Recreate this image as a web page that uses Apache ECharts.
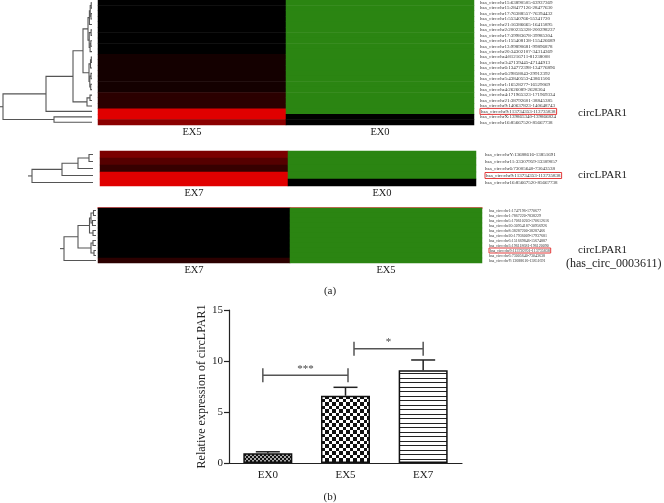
<!DOCTYPE html>
<html>
<head>
<meta charset="utf-8">
<script src="https://cdn.jsdelivr.net/npm/echarts@6/dist/echarts.min.js"></script>
<style>html,body{margin:0;padding:0;background:#fff}#c{width:664px;height:503px}</style>
</head>
<body>
<div id="c"></div>
<script>
// ---------------- DATA ----------------
const h1Cols = ['EX5', 'EX0'];
const h1Rows = [
  'hsa_circ:chr15:63890505-63937369','hsa_circ:chr15:28477126-28477630','hsa_circ:chr17:76388557-76394432',
  'hsa_circ:chr1:55340766-55341720','hsa_circ:chr21:16386665-16415895','hsa_circ:chr2:200235328-200298237',
  'hsa_circ:chr17:39983678-39985304','hsa_circ:chr1:155408138-155426689','hsa_circ:chr13:99890681-99896878',
  'hsa_circ:chr20:34302107-34314369','hsa_circ:chr4:81216711-81238008','hsa_circ:chr3:47139445-47144913',
  'hsa_circ:chr6:134772398-134776896','hsa_circ:chr6:29858043-29912392','hsa_circ:chr5:43840553-43861506',
  'hsa_circ:chr1:16528277-16529069','hsa_circ:chr4:2626089-2628304','hsa_circ:chr4:171965323-171969334',
  'hsa_circ:chr21:38792601-38845385','hsa_circ:chr9:140637823-140648743','hsa_circ:chr9:113734353-113735838',
  'hsa_circ:chrX:139865340-139866824','hsa_circ:chr16:85667520-85667738'
];
const h1EX5 = [0,0,0,0,0,0,0,0,0,0, 0.09,0.09,0.09,0.09,0.09,0.09,0.09, 0.19,0.19,0.19, 1,1, 0.62];
const h1EX0 = [-1,-1,-1,-1,-1,-1,-1,-1,-1,-1,-1,-1,-1,-1,-1,-1,-1,-1,-1,-1,-1, 0,0];
const h1Boxed = ['hsa_circ:chr9:113734353-113735838'];
// dendrogram merges: [childA, childB, height]
const h1Tree = [
  [0,1,0.8],[2,3,1.0],[23,24,1.8],[25,4,2.6],[5,6,0.9],[7,8,1.2],[28,9,1.9],[27,29,2.8],[26,30,4.0],
  [10,11,0.7],[32,12,1.5],[13,14,1.0],[15,16,1.3],[34,35,2.2],[33,36,3.0],[31,37,9],
  [17,18,2],[39,19,5],[38,40,19],[41,20,46],[21,22,38],[42,43,89]
];

const h2Cols = ['EX7', 'EX0'];
const h2Rows = [
  'hsa_circ:chrY:13688616-13851691','hsa_circ:chr11:33307959-33309057','hsa_circ:chr6:73005640-73043538',
  'hsa_circ:chr9:113734353-113735838','hsa_circ:chr16:85667520-85667738'
];
const h2EX7 = [0.55, 0.38, 0.24, 1, 1];
const h2EX0 = [-1, -1, -1, -1, 0];
const h2Boxed = ['hsa_circ:chr9:113734353-113735838'];
const h2Tree = [[0,1,4],[5,2,15],[6,3,31],[7,4,61]];

const h3Cols = ['EX7', 'EX5'];
const h3Rows = [
  'hsa_circ:chr1:1747196-1770677','hsa_circ:chr1:7867220-7838229','hsa_circ:chr5:170610203-170612616',
  'hsa_circ:chr20:30954187-30956926','hsa_circ:chr8:38287200-38287466','hsa_circ:chr20:17936009-17937681',
  'hsa_circ:chr6:151669846-15674887','hsa_circ:chr3:196118681-196120090','hsa_circ:chr9:113720701-113735838',
  'hsa_circ:chr6:73005640-73043638','hsa_circ:chrY:13688616-13851691'
];
const h3EX7 = [0,0,0,0,0,0,0,0,0,0,0.19];
const h3EX5 = [-1,-1,-1,-1,-1,-1,-1,-1,-1,-1,-1];
const h3Boxed = ['hsa_circ:chr9:113720701-113735838'];
const h3Tree = [[0,1,2.5],[2,3,3.5],[11,12,5],[4,5,3],[13,14,6.5],[6,7,3],[8,9,2],[16,17,5],[15,18,18],[19,10,32]];

const barCats = ['EX0', 'EX5', 'EX7'];
const barMeans = [0.95, 6.6, 9.1];
const barErrs = [0.15, 0.82, 1.0];
const yTicks = [0, 5, 15];
const sigPairs = [[0, 1, 8.6], [1, 2, 11.2]];
const sigLabels = ['***', '*'];

// ---------------- STYLE / HELPERS ----------------
const SERIF = '"Liberation Serif", "DejaVu Serif", serif';

function heatData(a, b) {
  const d = [];
  a.forEach((v, i) => d.push([0, i, v]));
  b.forEach((v, i) => d.push([1, i, v]));
  return d;
}
function treeData(merges, n) {
  const pos = [];
  for (let i = 0; i < n; i++) pos[i] = { h: 0, y: i };
  merges.forEach(([a, b, h], k) => { pos[n + k] = { h: h, y: (pos[a].y + pos[b].y) / 2 }; });
  return merges.map(([a, b, h], k) => [h, pos[a].y, pos[a].h, pos[b].y, pos[b].h, k === merges.length - 1 ? 1 : 0]);
}
function treeRender(params, api) {
  const h = api.value(0), ya = api.value(1), ha = api.value(2), yb = api.value(3), hb = api.value(4), root = api.value(5);
  const pts = [api.coord([ha, ya]), api.coord([h, ya]), api.coord([h, yb]), api.coord([hb, yb])];
  const ch = [{ type: 'polyline', shape: { points: pts }, style: { stroke: '#555', lineWidth: 1.1, fill: null } }];
  if (root) {
    const m = api.coord([h, (ya + yb) / 2]);
    ch.push({ type: 'line', shape: { x1: m[0] - 4, y1: m[1], x2: m[0], y2: m[1] }, style: { stroke: '#555', lineWidth: 1.1 } });
  }
  return { type: 'group', children: ch };
}
function heatX(grid, cols) {
  return { type: 'category', gridIndex: grid, data: cols, position: 'bottom',
    axisLine: { show: false }, axisTick: { show: false }, splitLine: { show: false },
    axisLabel: { fontSize: 10.5, fontFamily: SERIF, color: '#222', margin: 2 } };
}
function heatY(grid, rows, fs, margin, boxed) {
  return { type: 'category', gridIndex: grid, data: rows, inverse: true, position: 'right',
    axisLine: { show: false }, axisTick: { show: false }, splitLine: { show: false },
    axisLabel: { interval: 0, fontSize: fs, fontFamily: SERIF, color: '#333', margin: margin,
      formatter: v => boxed.includes(v) ? '{b|' + v + '}' : v,
      rich: { b: { borderColor: '#e23b3b', borderWidth: 1, padding: [1, 1, 0, 1], fontSize: fs, fontFamily: SERIF, color: '#333' } } } };
}
function valX(grid, max) { return { type: 'value', gridIndex: grid, min: 0, max: max, inverse: true, show: false }; }
function valY(grid, n) { return { type: 'value', gridIndex: grid, min: -0.5, max: n - 0.5, inverse: true, show: false }; }

function makePattern(kind) {
  const c = document.createElement('canvas');
  const g = c.getContext('2d');
  if (kind === 0) {
    c.width = 4; c.height = 4;
    g.fillStyle = '#111'; g.fillRect(0, 0, 4, 4);
    g.fillStyle = '#a8a8a8'; g.fillRect(0, 0, 2, 2); g.fillRect(2, 2, 2, 2);
  } else if (kind === 1) {
    c.width = 7; c.height = 7;
    g.fillStyle = '#fff'; g.fillRect(0, 0, 7, 7);
    g.fillStyle = '#111'; g.fillRect(0, 0, 3, 3); g.fillRect(3, 3, 4, 4);
  } else {
    c.width = 4; c.height = 9;
    g.fillStyle = '#fff'; g.fillRect(0, 0, 4, 9);
    g.fillStyle = '#222'; g.fillRect(0, 0, 4, 1); g.fillRect(0, 4, 4, 1);
  }
  return c;
}
const patterns = [makePattern(0), makePattern(1), makePattern(2)];
const bracketInset = [[-5, 2.5], [8.5, 0]];

const chart = echarts.init(document.getElementById('c'), null, { renderer: 'canvas' });
const option = {
  backgroundColor: '#fff',
  animation: false,
  grid: [
    { left: 98, top: 0, width: 376, height: 125 },
    { left: 0, top: 0, width: 92, height: 125 },
    { left: 100, top: 151, width: 376, height: 35 },
    { left: 0, top: 151, width: 93, height: 35 },
    { left: 98, top: 208, width: 384, height: 55 },
    { left: 0, top: 208, width: 96, height: 55 },
    { left: 229, top: 310, width: 233, height: 153 }
  ],
  xAxis: [
    heatX(0, h1Cols), valX(1, 92), heatX(2, h2Cols), valX(3, 93), heatX(4, h3Cols), valX(5, 96),
    { type: 'category', gridIndex: 6, data: barCats,
      axisLine: { lineStyle: { color: '#222', width: 1.2 } }, axisTick: { show: false },
      axisLabel: { fontSize: 11, fontFamily: SERIF, color: '#222', margin: 7 } },
    { type: 'category', gridIndex: 4, data: h3Cols, position: 'top',
      axisLine: { show: true, onZero: false, lineStyle: { color: '#e03030', width: 1.5 } },
      axisTick: { show: false }, axisLabel: { show: false } }
  ],
  yAxis: [
    heatY(0, h1Rows, 5, 6, h1Boxed), valY(1, h1Rows.length),
    heatY(2, h2Rows, 5, 9, h2Boxed), valY(3, h2Rows.length),
    heatY(4, h3Rows, 4, 7, h3Boxed), valY(5, h3Rows.length),
    { type: 'value', gridIndex: 6, min: yTicks[0], max: yTicks[2], interval: yTicks[1],
      name: 'Relative expression of circLPAR1', nameLocation: 'middle', nameGap: 20,
      nameTextStyle: { fontSize: 12, fontFamily: SERIF, color: '#222' },
      axisLine: { show: true, lineStyle: { color: '#222', width: 1.2 } },
      axisTick: { show: true, length: 5, lineStyle: { color: '#222', width: 1.2 } },
      axisLabel: { fontSize: 11, fontFamily: SERIF, color: '#222', margin: 6 },
      splitLine: { show: false } }
  ],
  visualMap: {
    type: 'continuous', min: -1, max: 1, show: false, seriesIndex: [0, 1, 2],
    inRange: { color: ['#2b8512', '#000000', '#e00000'] }
  },
  series: [
    { type: 'heatmap', xAxisIndex: 0, yAxisIndex: 0, data: heatData(h1EX5, h1EX0), emphasis: { disabled: true } },
    { type: 'heatmap', xAxisIndex: 2, yAxisIndex: 2, data: heatData(h2EX7, h2EX0), emphasis: { disabled: true } },
    { type: 'heatmap', xAxisIndex: 4, yAxisIndex: 4, data: heatData(h3EX7, h3EX5), emphasis: { disabled: true } },
    { type: 'custom', xAxisIndex: 1, yAxisIndex: 1, data: treeData(h1Tree, h1Rows.length), renderItem: treeRender, silent: true },
    { type: 'custom', xAxisIndex: 3, yAxisIndex: 3, data: treeData(h2Tree, h2Rows.length), renderItem: treeRender, silent: true },
    { type: 'custom', xAxisIndex: 5, yAxisIndex: 5, data: treeData(h3Tree, h3Rows.length), renderItem: treeRender, silent: true },
    { type: 'bar', xAxisIndex: 6, yAxisIndex: 6, barWidth: 49,
      data: barMeans.map((v, i) => ({ value: v, itemStyle: { color: { image: patterns[i], repeat: 'repeat' }, borderColor: '#111', borderWidth: 1.5 } })) },
    { type: 'custom', xAxisIndex: 6, yAxisIndex: 6, silent: true,
      data: barMeans.map((v, i) => [i, v, barErrs[i]]),
      renderItem: (params, api) => {
        const p0 = api.coord([api.value(0), api.value(1)]);
        const p1 = api.coord([api.value(0), api.value(1) + api.value(2)]);
        const st = { stroke: '#222', lineWidth: 1.5 };
        return { type: 'group', children: [
          { type: 'line', shape: { x1: p0[0], y1: p0[1], x2: p1[0], y2: p1[1] }, style: st },
          { type: 'line', shape: { x1: p1[0] - 12, y1: p1[1], x2: p1[0] + 12, y2: p1[1] }, style: st }
        ] };
      } },
    { type: 'custom', xAxisIndex: 6, yAxisIndex: 6, silent: true,
      data: sigPairs,
      renderItem: (params, api) => {
        const pa = api.coord([api.value(0), api.value(2)]);
        const pb = api.coord([api.value(1), api.value(2)]);
        const ins = bracketInset[params.dataIndex];
        const x1 = pa[0] + ins[0], x2 = pb[0] + ins[1], y = pa[1];
        const st = { stroke: '#555', lineWidth: 1.5 };
        return { type: 'group', children: [
          { type: 'line', shape: { x1: x1, y1: y, x2: x2, y2: y }, style: st },
          { type: 'line', shape: { x1: x1, y1: y - 7, x2: x1, y2: y + 7 }, style: st },
          { type: 'line', shape: { x1: x2, y1: y - 7, x2: x2, y2: y + 7 }, style: st },
          { type: 'text', style: { x: (x1 + x2) / 2, y: y - 1, text: sigLabels[params.dataIndex], fontSize: 11, fontFamily: SERIF, fill: '#444', align: 'center', verticalAlign: 'bottom' } }
        ] };
      } }
  ],
  graphic: [
    { type: 'text', style: { x: 578, y: 113, text: 'circLPAR1', fontSize: 11, fontFamily: SERIF, fill: '#222', verticalAlign: 'middle' } },
    { type: 'text', style: { x: 578, y: 175, text: 'circLPAR1', fontSize: 11, fontFamily: SERIF, fill: '#222', verticalAlign: 'middle' } },
    { type: 'text', style: { x: 578, y: 250, text: 'circLPAR1', fontSize: 11, fontFamily: SERIF, fill: '#222', verticalAlign: 'middle' } },
    { type: 'text', style: { x: 566, y: 264, text: '(has_circ_0003611)', fontSize: 12, fontFamily: SERIF, fill: '#222', verticalAlign: 'middle' } },
    { type: 'text', style: { x: 330, y: 291, text: '(a)', fontSize: 11, fontFamily: SERIF, fill: '#222', align: 'center', verticalAlign: 'middle' } },
    { type: 'text', style: { x: 330, y: 497, text: '(b)', fontSize: 11, fontFamily: SERIF, fill: '#222', align: 'center', verticalAlign: 'middle' } }
  ]
};
chart.setOption(option);
</script>
</body>
</html>
